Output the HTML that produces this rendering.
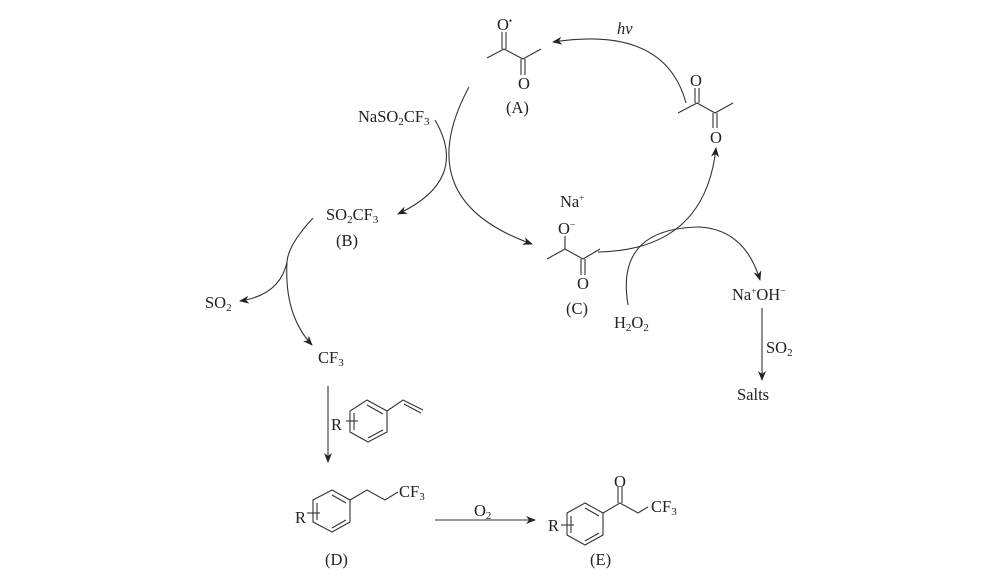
<!DOCTYPE html>
<html><head><meta charset="utf-8"><style>
html,body{margin:0;padding:0;background:#fff;}
svg text{font-family:"Liberation Serif","Times New Roman",serif;font-size:16.5px;fill:#222;}
</style></head><body>
<svg width="1000" height="583" viewBox="0 0 1000 583" xmlns="http://www.w3.org/2000/svg">
<defs><marker id="a" markerWidth="10" markerHeight="8" refX="9" refY="4" orient="auto" markerUnits="userSpaceOnUse"><path d="M0,0 L10,4 L0,8 L3,4 Z" fill="#222"/></marker></defs>
<g fill="none" stroke="#333" stroke-width="1.1">
<polyline points="487,58 504,49 523,59 541,49"/>
<line x1="502" y1="49" x2="502" y2="32"/><line x1="506" y1="49" x2="506" y2="32"/>
<line x1="521" y1="59" x2="521" y2="75"/><line x1="525" y1="59" x2="525" y2="75"/>
<polyline points="678,113 697,103 715,113 733,103"/>
<line x1="695" y1="103" x2="695" y2="88"/><line x1="699" y1="103" x2="699" y2="88"/>
<line x1="713" y1="113" x2="713" y2="128"/><line x1="717" y1="113" x2="717" y2="128"/>
<polyline points="547,259 565,249 583,259 600,249"/>
<line x1="565" y1="249" x2="565" y2="236"/>
<line x1="581" y1="259" x2="581" y2="275"/><line x1="585" y1="259" x2="585" y2="275"/>
<path d="M686,103 Q665,25 553,42" marker-end="url(#a)"/>
<path d="M469,87 Q408,200 532,244" marker-end="url(#a)"/>
<path d="M598,252 Q705,250 716,148" marker-end="url(#a)"/>
<path d="M628,305 Q615,228 700,227 Q745,230 760,280" marker-end="url(#a)"/>
<path d="M435,120 Q470,180 398,214" marker-end="url(#a)"/>
<path d="M313,218 Q288,245 287,262 Q280,295 240,301" marker-end="url(#a)"/>
<path d="M287,262 Q284,315 312,345" marker-end="url(#a)"/>
<line x1="328" y1="386" x2="328" y2="462" marker-end="url(#a)"/>
<line x1="762" y1="308" x2="762" y2="380" marker-end="url(#a)"/>
<line x1="435" y1="520" x2="535" y2="520" marker-end="url(#a)"/>
<polygon points="367,400 387,411 387,432 368,442 350,432 350,411"/>
<line x1="367" y1="405" x2="383" y2="414"/><line x1="383" y1="430" x2="368" y2="438"/><line x1="354" y1="430" x2="354" y2="413"/>
<polyline points="387,411 403,400 423,410"/><line x1="404" y1="404" x2="421" y2="413"/>
<line x1="346" y1="421" x2="358" y2="421"/>
<polygon points="332,490 350,500 350,522 332,532 313,522 313,500"/>
<line x1="332" y1="495" x2="346" y2="503"/><line x1="346" y1="520" x2="332" y2="528"/><line x1="317" y1="520" x2="317" y2="503"/>
<polyline points="350,500 367,490 385,500 398,492"/>
<line x1="307" y1="513" x2="320" y2="513"/>
<polygon points="585,503 603,513 603,535 585,545 567,535 567,513"/>
<line x1="585" y1="508" x2="599" y2="516"/><line x1="599" y1="533" x2="585" y2="541"/><line x1="571" y1="533" x2="571" y2="516"/>
<polyline points="603,513 620,503 638,513 648,507"/>
<line x1="618" y1="503" x2="618" y2="487"/><line x1="622" y1="503" x2="622" y2="487"/>
<line x1="561" y1="525" x2="574" y2="525"/>
</g>
<text x="497" y="30">O<tspan font-size="9" dy="-6">•</tspan></text>
<text x="518" y="89">O</text>
<text x="506" y="113">(A)</text>
<text x="617" y="34" font-style="italic">hv</text>
<text x="690" y="86">O</text>
<text x="710" y="143">O</text>
<text x="560" y="207">Na<tspan font-size="9" dy="-6">+</tspan></text>
<text x="558" y="234">O<tspan font-size="10" dy="-6">−</tspan></text>
<text x="577" y="289">O</text>
<text x="566" y="314">(C)</text>
<text x="614" y="328">H<tspan font-size="11" dy="3">2</tspan><tspan dy="-3">O</tspan><tspan font-size="11" dy="3">2</tspan></text>
<text x="732" y="300">Na<tspan font-size="9" dy="-6">+</tspan><tspan dy="6">OH</tspan><tspan font-size="10" dy="-6">−</tspan></text>
<text x="766" y="353">SO<tspan font-size="11" dy="3">2</tspan></text>
<text x="737" y="400">Salts</text>
<text x="358" y="122">NaSO<tspan font-size="11" dy="3">2</tspan><tspan dy="-3">CF</tspan><tspan font-size="11" dy="3">3</tspan></text>
<text x="326" y="220">SO<tspan font-size="11" dy="3">2</tspan><tspan dy="-3">CF</tspan><tspan font-size="11" dy="3">3</tspan></text>
<text x="336" y="246">(B)</text>
<text x="205" y="308">SO<tspan font-size="11" dy="3">2</tspan></text>
<text x="318" y="363">CF<tspan font-size="11" dy="3">3</tspan></text>
<text x="331" y="430">R</text>
<text x="295" y="523">R</text>
<text x="399" y="497">CF<tspan font-size="11" dy="3">3</tspan></text>
<text x="325" y="565">(D)</text>
<text x="474" y="516">O<tspan font-size="11" dy="3">2</tspan></text>
<text x="548" y="531">R</text>
<text x="614" y="487">O</text>
<text x="651" y="512">CF<tspan font-size="11" dy="3">3</tspan></text>
<text x="590" y="565">(E)</text>
</svg>
</body></html>
